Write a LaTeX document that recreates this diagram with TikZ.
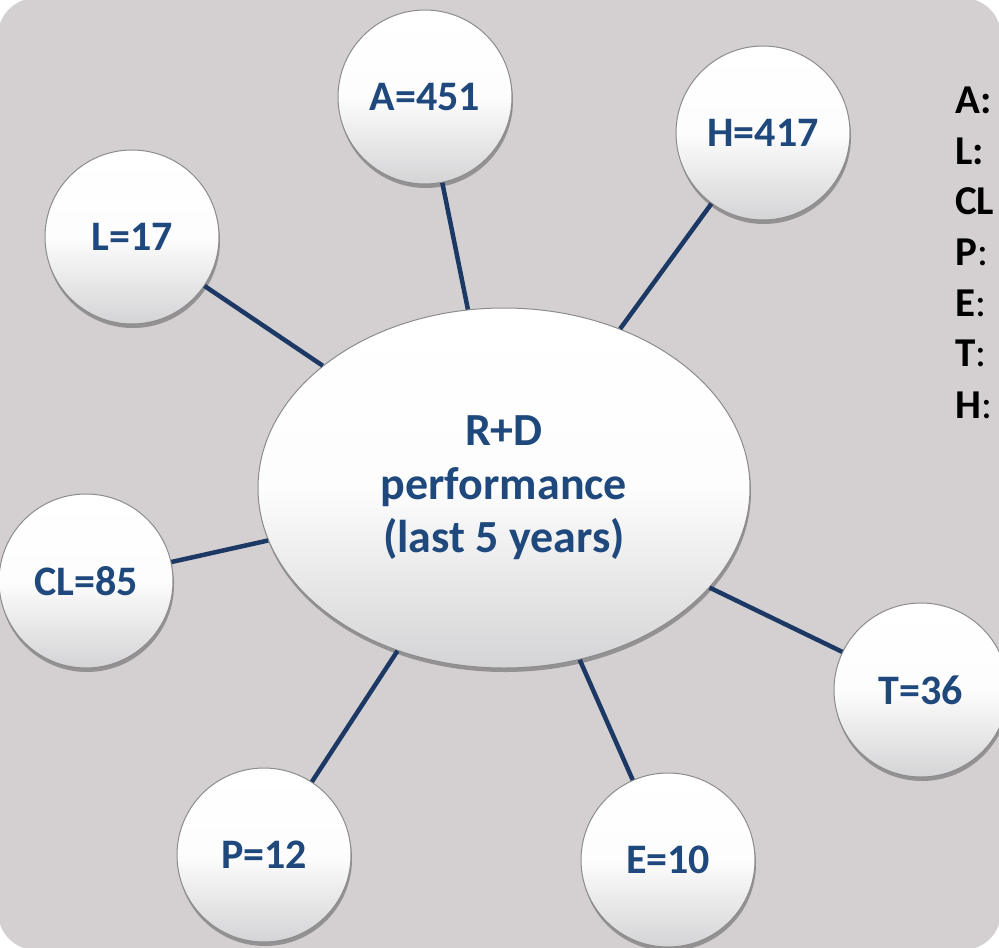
\documentclass[tikz,border=0pt]{standalone}
\usepackage{fontspec}
\setmainfont{Carlito}
\usetikzlibrary{shapes.geometric,shadows}
\definecolor{bgc}{RGB}{212,208,209}
\definecolor{txt}{RGB}{31,73,125}
\definecolor{lnc}{RGB}{28,56,100}
\definecolor{rim}{RGB}{140,140,142}
\definecolor{btm}{RGB}{212,212,214}
\tikzset{
  bubble/.style={draw=rim, line width=1pt, top color=white, bottom color=btm, middle color=white!95!btm,
    drop shadow={shadow xshift=1pt, shadow yshift=-4pt, opacity=0.3, fill=black},
    text=txt, font=\bfseries\fontsize{42}{50}\selectfont, inner sep=0pt},
  ball/.style={bubble, circle, minimum size=174pt},
  hub/.style={bubble, ellipse, minimum width=492pt, minimum height=360pt, align=center,
    font=\bfseries\fontsize{46}{53.5}\selectfont},
  link/.style={draw=lnc, line width=4.5pt},
  legend/.style={anchor=west, inner sep=0pt, font=\fontsize{41}{49}\selectfont, text=black}
}
\begin{document}
\begin{tikzpicture}[x=1pt,y=-1pt]
\useasboundingbox (0,0) rectangle (999,948);
\clip (0,0) rectangle (999,948);
\fill[white] (0,0) rectangle (999,948);
\fill[bgc, rounded corners=38pt] (-2,-2) rectangle (1001,950);
\node[hub] (hubnode) at (504,488) {R+D\\performance\\(last 5 years)};
\node[ball] (A) at (425,97) {A=451};
\node[ball] (H) at (763,133) {H=417};
\node[ball] (L) at (132,237) {L=17};
\node[ball] (CL) at (86,581) {CL=85};
\node[ball] (P) at (264,855) {P=12};
\node[ball] (E) at (668,860) {E=10};
\node[ball] (T) at (921,690) {T=36};
\foreach \n in {A,H,L,CL,P,E,T} \draw[link] (\n) -- (hubnode);
\node[legend] (lA) at (955,100) {\textbf{A:}};
\node[legend] (lL) at (955,151) {\textbf{L:}};
\node[legend] (lCL) at (955,201) {\textbf{CL}};
\node[legend] (lP) at (955,252) {\textbf{P}:};
\node[legend] (lE) at (955,303) {\textbf{E}:};
\node[legend] (lT) at (955,353) {\textbf{T}:};
\node[legend] (lH) at (955,405) {\textbf{H}:};
\end{tikzpicture}
\end{document}
